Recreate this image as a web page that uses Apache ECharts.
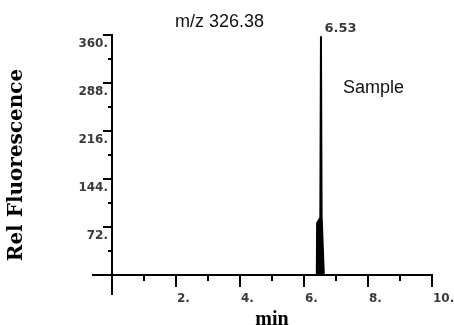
<!DOCTYPE html>
<html>
<head>
<meta charset="UTF-8">
<title>m/z 326.38</title>
<script src="https://cdn.jsdelivr.net/npm/echarts@6/dist/echarts.min.js"></script>
<style>
body { margin: 0; background: #fff; }
#chart { width: 454px; height: 325px; }
</style>
</head>
<body>
<div id="chart"></div>
<script>
// chromatogram trace
var peakTime   = [0, 6.40, 6.41, 6.46, 6.51, 6.53, 6.55, 6.58, 6.61, 6.62, 10];
var peakSignal = [0, 0,    78,   80,   86,   358,  90,   88,   87,   0,    0];
var peakLabel = 6.53;
var xMajor = [2, 4, 6, 8, 10];
var xMinor = [1, 3, 5, 7, 9];
var yMajor = [72, 144, 216, 288, 360];
var yMinor = [36, 108, 180, 252, 324];

var trace = [];
for (var i = 0; i < peakTime.length; i++) {
    trace.push([peakTime[i], peakSignal[i]]);
}
var peakTop = Math.max.apply(null, peakSignal);

var tickFont = { fontFamily: 'DejaVu Sans', fontWeight: 'bold', fontSize: 12, color: '#3a3a3a' };
var black = { color: '#000', width: 2 };

// one axis per tick size: major, minor, and the long stub at 0 that makes the axes cross
function xAx(ticks, len, extra) {
    return Object.assign({
        type: 'value', position: 'bottom', min: 0, max: 10,
        axisLine: { onZero: false, lineStyle: black },
        axisTick: { customValues: ticks, length: len, lineStyle: black },
        axisLabel: { show: false },
        splitLine: { show: false }
    }, extra || {});
}
function yAx(ticks, len, extra) {
    return Object.assign({
        type: 'value', position: 'left', min: 0, max: 360,
        axisLine: { onZero: false, lineStyle: black },
        axisTick: { customValues: ticks, length: len, lineStyle: black },
        axisLabel: { show: false },
        splitLine: { show: false }
    }, extra || {});
}

var chart = echarts.init(document.getElementById('chart'));
chart.setOption({
    animation: false,
    title: [
        { text: 'm/z 326.38', left: 175, top: 13, padding: 0,
          textStyle: { fontFamily: 'Liberation Sans', fontWeight: 'normal', fontSize: 18, color: '#111' } },
        { text: 'Sample', left: 343, top: 79, padding: 0,
          textStyle: { fontFamily: 'Liberation Sans', fontWeight: 'normal', fontSize: 18, color: '#111' } }
    ],
    grid: { left: 112, right: 22, top: 35, bottom: 50, containLabel: false, outerBoundsMode: 'none' },
    xAxis: [
        xAx(xMajor, 12, {
            axisLabel: Object.assign({ customValues: xMajor, margin: 18, align: 'left', padding: [0, 0, 0, 1],
                formatter: function (v) { return v + '.'; } }, tickFont),
            name: 'min', nameLocation: 'middle', nameGap: 32,
            nameTextStyle: { fontFamily: 'Liberation Serif', fontWeight: 'bold', fontSize: 20, color: '#000' }
        }),
        xAx(xMinor, 6),
        xAx([0], 20)
    ],
    yAxis: [
        yAx(yMajor, 9, {
            axisLabel: Object.assign({ customValues: yMajor, margin: 4, verticalAlign: 'top', padding: [3, 0, 0, 0],
                formatter: function (v) { return v + '.'; } }, tickFont),
            name: 'Rel Fluorescence', nameLocation: 'middle', nameGap: 85,
            nameTextStyle: { fontFamily: 'DejaVu Serif', fontWeight: 'bold', fontSize: 20, color: '#000',
                padding: [0, 20, 0, 0] }
        }),
        yAx(yMinor, 4),
        yAx([0], 20)
    ],
    series: [{
        type: 'line',
        xAxisIndex: 0,
        yAxisIndex: 0,
        data: trace,
        showSymbol: false,
        lineStyle: { color: '#000', width: 2 },
        areaStyle: { color: '#000', opacity: 1 },
        markPoint: {
            symbol: 'circle',
            symbolSize: 1,
            itemStyle: { color: 'rgba(0,0,0,0)' },
            label: { show: true, position: 'right', distance: 3, offset: [0, -8],
                formatter: '{c}', fontFamily: 'DejaVu Sans', fontWeight: 'bold', fontSize: 13, color: '#3a3a3a' },
            data: [{ coord: [peakLabel, peakTop], value: peakLabel.toFixed(2) }]
        }
    }]
});
</script>
</body>
</html>
